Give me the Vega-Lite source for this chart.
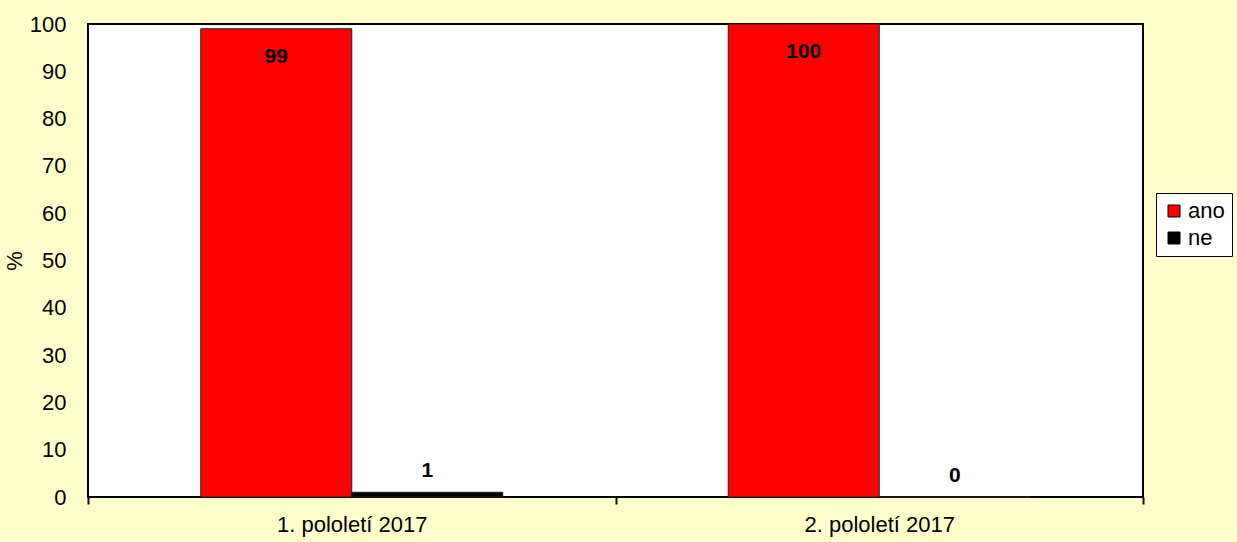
{
  "$schema": "https://vega.github.io/schema/vega-lite/v6.json",
  "width": 1055,
  "height": 473,
  "autosize": {"type": "none"},
  "padding": {"left": 88, "top": 24, "right": 94, "bottom": 45},
  "background": "#FFFFCC",
  "config": {
    "font": "Liberation Sans",
    "view": {"fill": "white", "stroke": "black", "strokeWidth": 2}
  },
  "data": {
    "values": [
      {"period": "1. pololetí 2017", "series": "ano", "value": 99},
      {"period": "1. pololetí 2017", "series": "ne", "value": 1},
      {"period": "2. pololetí 2017", "series": "ano", "value": 100},
      {"period": "2. pololetí 2017", "series": "ne", "value": 0}
    ]
  },
  "encoding": {
    "x": {
      "field": "period", "type": "nominal", "title": null,
      "scale": {"paddingInner": 0, "paddingOuter": 0},
      "axis": {
        "tickBand": "extent", "labelAngle": 0, "labelFontSize": 22, "labelColor": "black",
        "labelPadding": 10, "tickSize": 7, "tickWidth": 2, "tickColor": "black",
        "domain": false, "grid": false
      }
    },
    "xOffset": {
      "field": "series", "type": "nominal",
      "scale": {"domain": ["ano", "ne"], "paddingInner": 0, "paddingOuter": 0.7467}
    },
    "y": {
      "field": "value", "type": "quantitative", "title": "%",
      "scale": {"domain": [0, 100], "nice": false},
      "axis": {
        "values": [0, 10, 20, 30, 40, 50, 60, 70, 80, 90, 100],
        "labelFontSize": 22, "labelColor": "black", "labelPadding": 22,
        "ticks": false, "domain": false, "grid": false,
        "titleFontSize": 22, "titleFontWeight": "normal", "titleColor": "black", "titlePadding": 3
      }
    }
  },
  "layer": [
    {
      "mark": {"type": "bar", "stroke": "#222222", "strokeWidth": 1},
      "encoding": {
        "color": {
          "field": "series", "type": "nominal",
          "scale": {"domain": ["ano", "ne"], "range": ["#FF0000", "#000000"]},
          "legend": {
            "title": null, "orient": "none", "legendX": 1068, "legendY": 169,
            "fillColor": "white", "strokeColor": "black", "padding": 7,
            "symbolType": "square", "symbolSize": 144, "symbolStrokeColor": "black", "symbolStrokeWidth": 1,
            "symbolOffset": 0,
            "labelFontSize": 22, "labelColor": "black", "labelOffset": 3, "rowPadding": 5
          }
        }
      }
    },
    {
      "transform": [{"filter": "datum.series === 'ano'"}],
      "mark": {"type": "text", "fontSize": 21, "fontWeight": "bold", "color": "black", "baseline": "middle", "dy": 28},
      "encoding": {"text": {"field": "value", "type": "quantitative"}}
    },
    {
      "transform": [{"filter": "datum.series === 'ne'"}],
      "mark": {"type": "text", "fontSize": 21, "fontWeight": "bold", "color": "black", "baseline": "middle", "dy": -21},
      "encoding": {"text": {"field": "value", "type": "quantitative"}}
    }
  ]
}
